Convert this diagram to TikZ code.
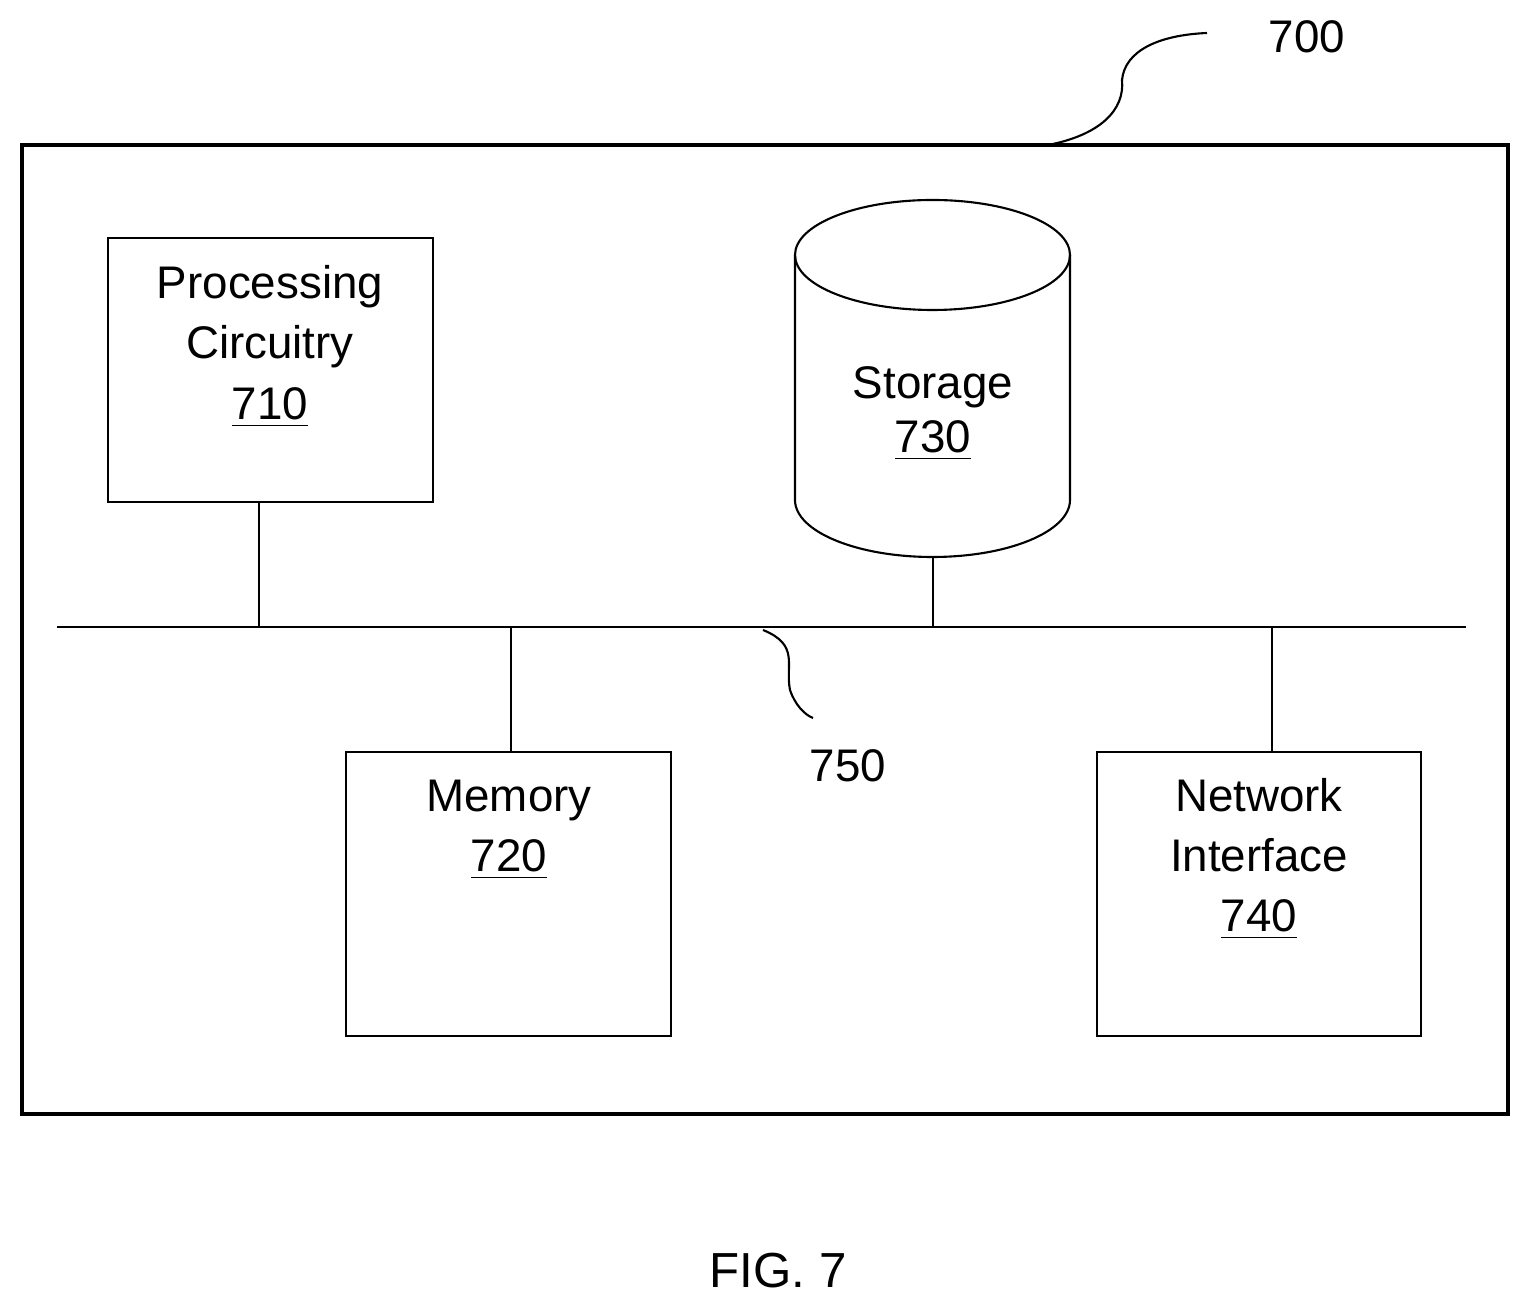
\documentclass[tikz,border=0pt]{standalone}
\usepackage{fontspec}
\setmainfont{Liberation Sans}
\begin{document}
\begin{tikzpicture}[x=0.01cm,y=-0.01cm,
  box/.style={draw,line width=0.6pt},
  lbl/.style={font=\fontsize{13}{15}\selectfont,align=center,inner sep=0pt,anchor=base},
  wire/.style={line width=0.6pt}]
\useasboundingbox (0,0) rectangle (1530,1310);
\draw[line width=0.9pt] (22,145) rectangle (1508,1114);
\coordinate (c700a) at (1048,145);
\coordinate (c700b) at (1207,33);
\draw[wire] (c700a) .. controls (1100,135) and (1125,110) .. (1122,80) .. controls (1125,50) and (1160,35) .. (c700b);
\node[lbl] (n700) at (1307,53) {700};
% Processing
\draw[box] (108,238) rectangle (433,502);
\node[lbl] (p1) at (270,299) {Processing};
\node[lbl] (p2) at (270,359) {Circuitry};
\node[lbl] (p3) at (270,420) {\underline{710}};
\coordinate (pb) at (259,502);
% Storage cylinder
\draw[box] (795,255) -- (795,500) arc[start angle=180,end angle=0,x radius=137.5,y radius=57] -- (1070,255);
\draw[box] (932.5,255) ellipse [x radius=137.5,y radius=55];
\node[lbl] (s1) at (933,399) {Storage};
\node[lbl] (s2) at (933,453) {\underline{730}};
\coordinate (sb) at (933,557);
% bus
\coordinate (busL) at (57,627);
\coordinate (busR) at (1466,627);
\draw[wire] (busL) -- (busR);
\draw[wire] (pb) -- (259,627);
\draw[wire] (sb) -- (933,627);
\draw[wire] (511,627) -- (511,752);
\draw[wire] (1272,627) -- (1272,752);
% Memory
\draw[box] (346,752) rectangle (671,1036);
\node[lbl] (m1) at (509,812) {Memory};
\node[lbl] (m2) at (509,872) {\underline{720}};
% Network
\draw[box] (1097,752) rectangle (1421,1036);
\node[lbl] (ni1) at (1259,812) {Network};
\node[lbl] (ni2) at (1259,872) {Interface};
\node[lbl] (ni3) at (1259,932) {\underline{740}};
% 750
\coordinate (c750a) at (763,630);
\coordinate (c750b) at (813,718);
\draw[wire] (c750a) .. controls (800,645) and (785,665) .. (790,690) .. controls (795,705) and (805,715) .. (c750b);
\node[lbl] (n750) at (848,782) {750};
\node[font=\fontsize{14}{17}\selectfont,inner sep=0pt,anchor=base] (fig) at (778,1287) {FIG. 7};
\end{tikzpicture}
\end{document}
